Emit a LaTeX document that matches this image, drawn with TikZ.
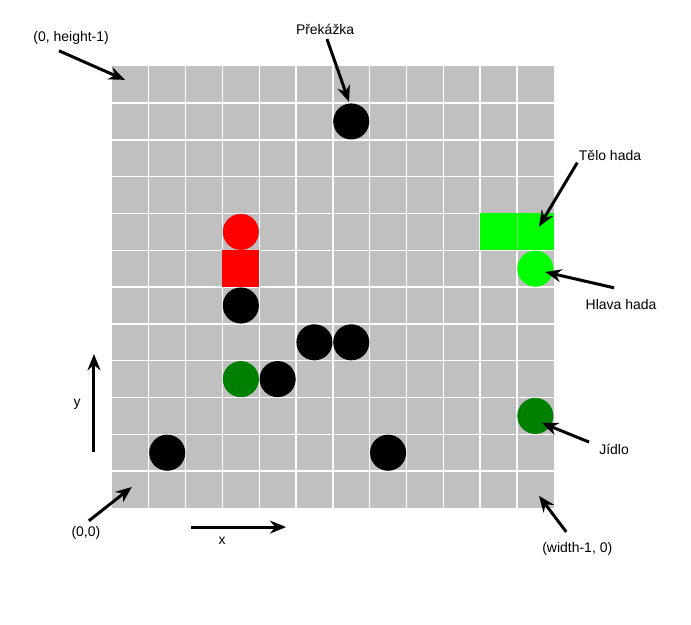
\documentclass[tikz,border=0pt]{standalone}
\usepackage{fontspec}
\setmainfont{Liberation Sans}
\usetikzlibrary{arrows.meta}
\definecolor{mrizka}{HTML}{C0C0C0}
\definecolor{had}{HTML}{00FF00}
\definecolor{jidlo}{HTML}{008000}
\begin{document}
\begin{tikzpicture}[font=\fontsize{10.8}{13}\selectfont, line join=round,
  >={Stealth[length=12.5pt,width=10pt]},
  sipka/.style={->, line width=2.3pt}]
			\useasboundingbox (-3.043,-3.18) rectangle (15.73,13.80);
			% Hrací plocha 12 x 12
			\fill[mrizka] (0,0) rectangle (12,12);
			\foreach \i in {1,...,11}{
			\draw[white, line width=1pt] (\i,0) -- (\i,12);
			\draw[white, line width=1pt] (0,\i) -- (12,\i);}
			% Překážky
			\foreach \x/\y in {6/10, 3/5, 5/4, 6/4, 4/3, 1/1, 7/1}
			\fill (\x+0.5,\y+0.5) circle (0.49);
			% Druhý had
			\fill[red] (3.5,7.5) circle (0.49);
			\fill[red] (3,6) rectangle (4,7);
			% Had (tělo a hlava)
			\fill[had] (10,7) rectangle (11,8);
			\fill[had] (11,7) rectangle (12,8);
			\draw[had!60!white, line width=0.4pt] (11,7) -- (11,8);
			\fill[had] (11.5,6.5) circle (0.49);
			% Jídlo
			\fill[jidlo] (3.5,3.5) circle (0.49);
			\fill[jidlo] (11.5,2.5) circle (0.49);
			% Popisky
			\node (roh) at (-1.11,12.77) {(0, height-1)};
			\node (prekazka) at (5.79,12.99) {Překážka};
			\node (telo) at (13.53,9.57) {Tělo hada};
			\node (hlava) at (13.83,5.54) {Hlava hada};
			\node (jidlo) at (13.64,1.58) {Jídlo};
			\node (sirka) at (12.64,-1.11) {(width-1, 0)};
			\node (pocatek) at (-0.71,-0.68) {(0,0)};
			\node (osay) at (-0.95,2.83) {y};
			\node (osax) at (2.99,-0.90) {x};
			% Konce šipek
			\path
			(-1.44,12.42) coordinate (s1) (0.35,11.63) coordinate (e1)
			(5.84,12.74) coordinate (s2) (6.44,11.03) coordinate (e2)
			(12.64,9.38) coordinate (s3) (11.60,7.64) coordinate (e3)
			(13.64,5.98) coordinate (s4) (11.77,6.41) coordinate (e4)
			(12.96,1.79) coordinate (s5) (11.68,2.31) coordinate (e5)
			(12.34,-0.65) coordinate (s6) (11.60,0.33) coordinate (e6)
			(-0.63,-0.35) coordinate (s7) (0.54,0.57) coordinate (e7)
			(-0.49,1.52) coordinate (s8) (-0.49,4.18) coordinate (e8)
			(2.15,-0.52) coordinate (s9) (4.73,-0.52) coordinate (e9);
			\foreach \i in {1,...,9}
			\draw[sipka] (s\i) -- (e\i);
		\end{tikzpicture}
\end{document}
